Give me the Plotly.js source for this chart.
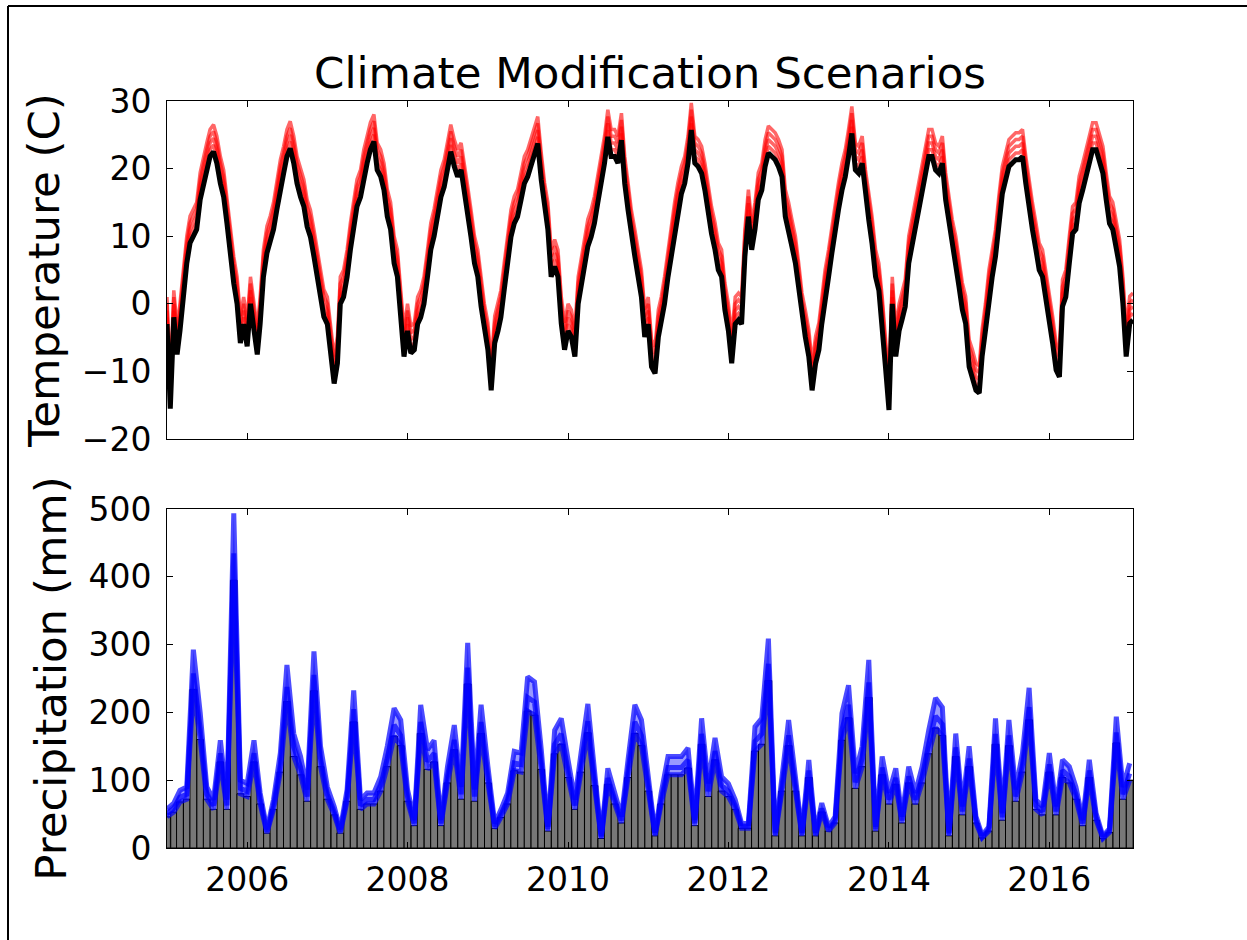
<!DOCTYPE html>
<html><head><meta charset="utf-8">
<script src="https://cdn.plot.ly/plotly-3.0.1.min.js"></script>
<style>html,body{margin:0;padding:0;background:#fff;}</style>
</head><body><div id="chart" style="width:1247px;height:940px;"></div>
<script>
// Base temperature read at the 1st and 16th of each month (deg C), Jan 2005 .. mid Jan 2017
const tempBase = [
 -3,-15.5,-2,-7.5,-4,1,6,9,10,11,15.4,17.8,19.8,21.8,22.5,20.8,17.8,15.8,11.9,7,3,0,-5.8,-3,
 -6.3,0,-4,-7.5,-3,4,7.5,9,11,13.9,17.3,19.3,21.8,23,20.8,17.8,15.8,14.4,11.4,9.9,7,4,1,-1.9,
 -3,-6.8,-11.8,-8.8,0,1,4,8,11,14.4,15.8,18.8,20.8,22.8,24,19.8,18.8,16.8,12.9,11,6,4,-1.9,-7.8,
 -4,-7.3,-6.8,-3,-2,0,4,8,10,12.9,15.8,17.3,20.3,22.5,20.3,18.8,19.8,16.8,13.4,9.9,6,4,-0.4,-4,
 -6.8,-12.8,-5.8,-4,-2,2,6,9.9,11.9,12.9,15.4,17.8,18.8,20.3,21.8,23.7,18.3,13.9,11,4,5.5,4,-2.9,-6.8,
 -4,-4.9,-7.8,0,2.5,5.5,8.5,9.9,11.9,14.9,17.8,20.8,24.7,21.8,21.8,20.8,24.2,17.8,13.9,9.9,7,4,1,-4.9,
 -3,-9.3,-10.3,-4.9,-3,0,4,7,11,13.9,16.3,17.8,20.8,25.7,20.8,20.3,19.3,16.8,13.4,10.4,8,5,4,-0.9,
 -4,-8.8,-3,-2.4,-3,7,12.9,8,11,15.4,16.8,20.3,22.3,21.8,21.3,20.3,18.8,12.9,11,8.5,6,2,-2.4,-4.9,
 -7.8,-12.8,-8.8,-6.8,-3,1,4,7.5,11,13.9,16.8,18.8,21.8,25.2,19.8,19.3,20.8,15.8,12.4,8.9,4,2,-2.9,-9.3,
 -15.7,0,-7.8,-4,-2.4,-0.4,6,8.5,11,13.9,16.8,18.8,21.8,21.8,19.8,19.3,20.8,15.4,11.9,8.5,6,2.5,-0.9,-2.9,
 -9.3,-10.8,-12.8,-13.2,-7.8,-4,1,4,7,11.9,16.3,18.3,20.3,20.8,21.3,21.3,21.8,17.8,13.9,11,8,5,4,1,
 -2.9,-5.8,-9.8,-10.8,-0.4,1,6,10.4,11,14.9,16.8,18.8,20.8,22.8,22.8,21.3,19.3,15.4,11.9,11,8,5.5,0,-7.8,
 -2.9,-2.4
];
// Temperature modification scenarios (deg C added)
const tempDeltas = [1, 2, 3, 4];

// Monthly precipitation (mm), Jan 2005 .. Jan 2017
const precipBase = [
 46,53,68,72,234,160,72,57,127,57,395,80,
 76,127,65,22,57,112,216,135,108,69,232,120,
 72,49,22,69,186,57,65,65,84,120,165,151,
 69,33,169,116,127,33,96,145,72,242,69,169,
 96,29,45,65,114,112,202,196,116,25,139,153,
 104,57,112,170,92,14,94,65,37,104,169,151,
 84,18,65,108,108,108,118,33,153,76,130,84,
 76,57,29,29,143,153,247,18,84,151,84,18,
 104,18,53,25,37,159,192,88,120,222,25,108,
 65,94,37,96,65,96,139,177,166,18,135,49,
 120,37,15,25,153,41,151,69,112,189,57,49,
 112,49,104,96,72,33,104,41,14,23,155,72,
 100
];
// Precipitation modification scenarios (multipliers)
const precipFactors = [1.0, 1.1, 1.25];

const yearTickVals = ['2006-01-01','2008-01-01','2010-01-01','2012-01-01','2014-01-01','2016-01-01'];
const yearTickText = ['2006','2008','2010','2012','2014','2016'];

function pad(n){return (n<10?'0':'')+n;}
const tempDates = tempBase.map((_, i) => {
  const y = 2005 + Math.floor(i/24), m = Math.floor((i%24)/2)+1, d = (i%2) ? 16 : 1;
  return y + '-' + pad(m) + '-' + pad(d);
});
const precipDates = precipBase.map((_, i) => {
  const y = 2005 + Math.floor(i/12), m = (i%12)+1;
  return y + '-' + pad(m) + '-01';
});
const barWidths = precipBase.map((_, i) => {
  const y = 2005 + Math.floor(i/12), m = (i%12);
  return (Date.UTC(y, m+1, 1) - Date.UTC(y, m, 1));
});

const traces = [];
tempDeltas.forEach(d => {
  traces.push({type:'scatter', mode:'lines', x: tempDates, y: tempBase.map(v => v + d),
    xaxis:'x', yaxis:'y', line:{color:'rgba(255,0,0,0.6)', width:3.5}, hoverinfo:'skip', showlegend:false});
});
traces.push({type:'scatter', mode:'lines', x: tempDates, y: tempBase, xaxis:'x', yaxis:'y',
  line:{color:'#000', width:5}, showlegend:false});

// bars centred on the month start, as in the reference
traces.push({type:'bar', x: precipDates, y: precipBase, width: barWidths,
  xaxis:'x2', yaxis:'y2', marker:{color:'#777777', line:{color:'#000', width:1}}, showlegend:false});

const fLo = Math.min(...precipFactors), fHi = Math.max(...precipFactors);
traces.push({type:'scatter', mode:'lines', x: precipDates, y: precipBase.map(v => v*fLo),
  xaxis:'x2', yaxis:'y2', line:{width:0, color:'rgba(0,0,255,0)'}, showlegend:false, hoverinfo:'skip'});
traces.push({type:'scatter', mode:'lines', x: precipDates, y: precipBase.map(v => v*fHi),
  xaxis:'x2', yaxis:'y2', fill:'tonexty', fillcolor:'rgba(0,0,255,0.4)',
  line:{width:0, color:'rgba(0,0,255,0)'}, showlegend:false, hoverinfo:'skip'});
precipFactors.forEach(f => {
  traces.push({type:'scatter', mode:'lines', x: precipDates, y: precipBase.map(v => v*f),
    xaxis:'x2', yaxis:'y2', line:{color:'rgba(0,0,255,0.7)', width:5}, showlegend:false});
});

const xr = ['2005-01-01', '2017-01-16'];
const axisCommon = {showline:true, linecolor:'#000', linewidth:1, mirror:'ticks', ticks:'inside',
  ticklen:6, tickwidth:1, tickcolor:'#000', showgrid:false, zeroline:false,
  tickfont:{size:33, color:'#000'}};

// border in paper coordinates (plot area spans x 167..1133, y 101..848)
const px = X => (X - 167) / 966, py = Y => (848 - Y) / 747;

const layout = {
  width:1247, height:940,
  margin:{l:167, r:114, t:101, b:92},
  paper_bgcolor:'#fff', plot_bgcolor:'#fff',
  font:{family:'DejaVu Sans', color:'#000'},
  showlegend:false,
  bargap:0,
  title:{text:'Climate Modification Scenarios', font:{size:43.5, color:'#000'},
    x:0.5, xref:'paper', xanchor:'center', y:1-73/940, yref:'container', yanchor:'middle'},
  xaxis:Object.assign({}, axisCommon, {domain:[0,1], anchor:'y', type:'date', range:xr,
    tickvals:yearTickVals, ticktext:yearTickText, showticklabels:false}),
  yaxis:Object.assign({}, axisCommon, {domain:[0.5475,1], anchor:'x', range:[-20,30],
    tickvals:[-20,-10,0,10,20,30], ticklabelstandoff:8,
    title:{text:'Temperature (C)', font:{size:43.5, color:'#000'}, standoff:8}}),
  xaxis2:Object.assign({}, axisCommon, {domain:[0,1], anchor:'y2', type:'date', range:xr,
    tickvals:yearTickVals, ticktext:yearTickText, ticklabelstandoff:2}),
  yaxis2:Object.assign({}, axisCommon, {domain:[0,0.4538], anchor:'x2', range:[0,500],
    tickvals:[0,100,200,300,400,500], ticklabelstandoff:8,
    title:{text:'Precipitation (mm)', font:{size:43.5, color:'#000'}, standoff:8}}),
  shapes:[
    {type:'line', xref:'paper', yref:'paper', x0:px(8), x1:px(1260), y0:py(6), y1:py(6), line:{color:'#000', width:2}},
    {type:'line', xref:'paper', yref:'paper', x0:px(8), x1:px(8), y0:py(6), y1:py(960), line:{color:'#000', width:2}}
  ]
};

Plotly.newPlot('chart', traces, layout, {displayModeBar:false, staticPlot:true});
</script>
</body></html>
